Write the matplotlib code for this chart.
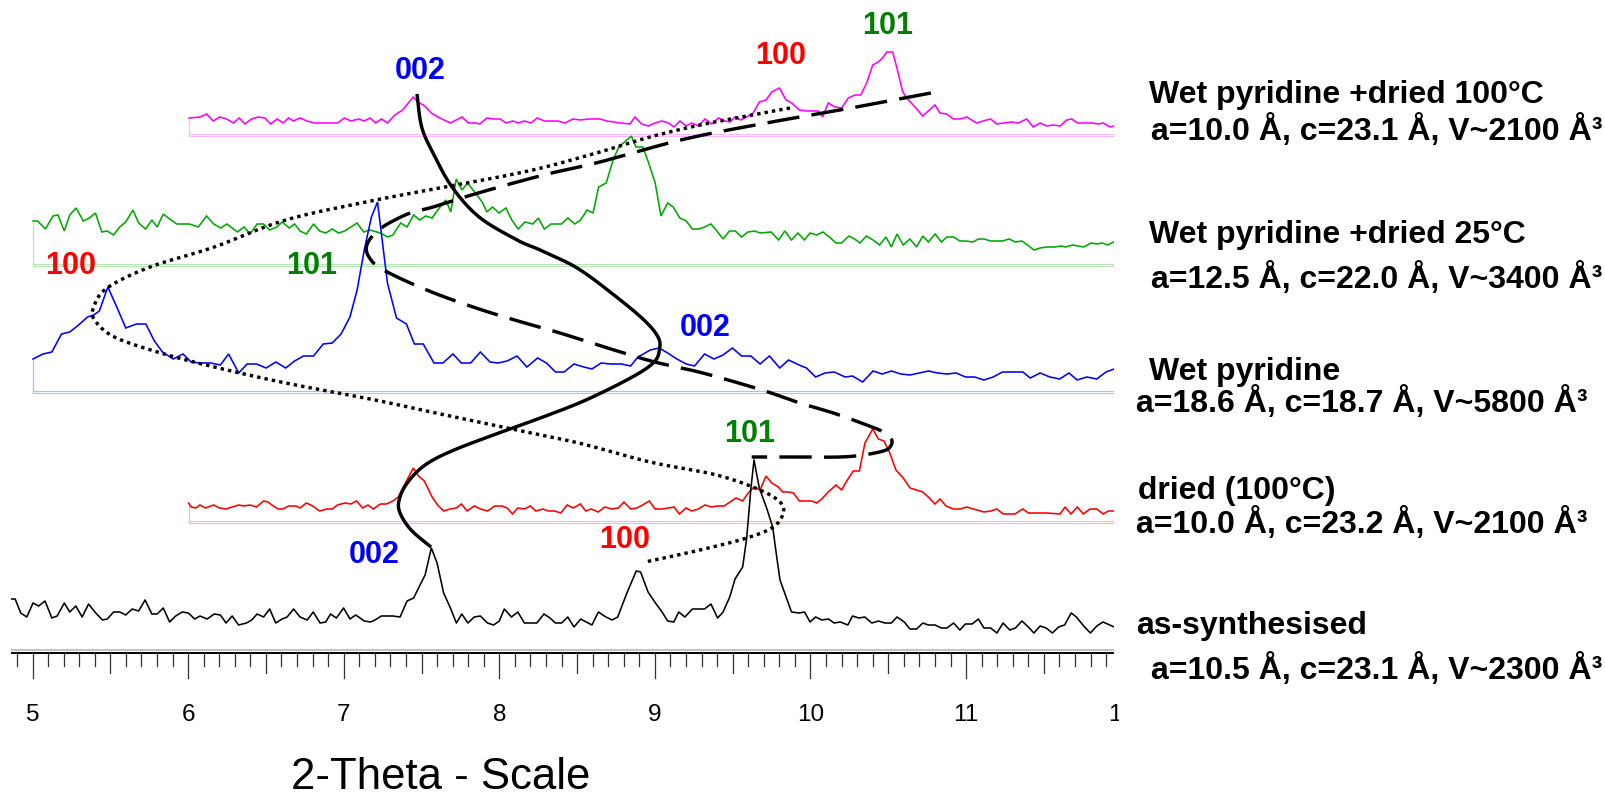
import numpy as np
import matplotlib
matplotlib.use("Agg")
import matplotlib.pyplot as plt
from matplotlib.transforms import Bbox

plt.rcParams['font.family'] = ['Liberation Sans', 'DejaVu Sans']

# ---------------- data: (2-theta, counts above the pattern's own baseline) ----------------
as_synthesised = [
    (4.864, 53), (4.888, 53), (4.924, 39), (4.963, 35), (5.003, 49), (5.039, 46), (5.080, 51), (5.124, 34), (5.158, 36), (5.204, 49),
    (5.239, 40), (5.278, 46), (5.319, 35), (5.360, 48), (5.406, 39), (5.450, 32), (5.480, 33), (5.521, 40), (5.560, 40), (5.599, 37),
    (5.640, 43), (5.682, 41), (5.723, 52), (5.767, 38), (5.801, 38), (5.840, 44), (5.881, 30), (5.920, 36), (5.962, 40), (6.001, 39),
    (6.042, 33), (6.076, 36), (6.122, 33), (6.168, 38), (6.207, 37), (6.244, 29), (6.283, 36), (6.324, 27), (6.375, 29), (6.409, 32),
    (6.443, 38), (6.485, 35), (6.524, 43), (6.563, 29), (6.604, 33), (6.636, 35), (6.678, 43), (6.719, 35), (6.765, 32), (6.804, 40),
    (6.848, 29), (6.884, 30), (6.915, 38), (6.953, 34), (6.999, 44), (7.040, 33), (7.077, 37), (7.132, 31), (7.172, 30), (7.201, 32),
    (7.242, 36), (7.316, 36), (7.362, 35), (7.407, 51), (7.449, 54), (7.488, 66), (7.523, 77), (7.563, 104), (7.600, 89), (7.642, 59),
    (7.683, 45), (7.724, 29), (7.759, 38), (7.798, 29), (7.839, 35), (7.878, 36), (7.924, 29), (7.963, 27), (8.000, 31), (8.032, 43),
    (8.078, 35), (8.119, 40), (8.161, 29), (8.241, 29), (8.287, 38), (8.326, 34), (8.361, 29), (8.400, 29), (8.440, 35), (8.480, 25),
    (8.523, 33), (8.595, 27), (8.637, 40), (8.685, 35), (8.725, 32), (8.761, 35), (8.820, 59), (8.880, 81), (8.908, 80), (8.956, 60),
    (8.999, 50), (9.046, 40), (9.082, 31), (9.122, 30), (9.153, 40), (9.193, 35), (9.241, 43), (9.319, 43), (9.360, 48), (9.403, 34),
    (9.438, 40), (9.481, 55), (9.515, 73), (9.564, 85), (9.590, 114), (9.616, 162), (9.637, 192), (9.671, 164), (9.718, 144), (9.757, 125),
    (9.783, 95), (9.804, 72), (9.878, 40), (9.926, 39), (9.962, 40), (9.997, 30), (10.033, 35), (10.073, 32), (10.116, 33), (10.152, 29),
    (10.192, 30), (10.240, 27), (10.270, 36), (10.311, 34), (10.349, 35), (10.394, 29), (10.437, 31), (10.477, 29), (10.520, 29), (10.556, 35),
    (10.603, 30), (10.639, 23), (10.682, 23), (10.722, 29), (10.758, 27), (10.801, 27), (10.841, 24), (10.877, 24), (10.920, 29), (10.960, 22),
    (10.996, 28), (11.039, 28), (11.079, 33), (11.115, 24), (11.158, 24), (11.198, 19), (11.238, 29), (11.281, 22), (11.317, 24), (11.359, 31),
    (11.400, 25), (11.436, 19), (11.476, 26), (11.514, 24), (11.555, 19), (11.595, 25), (11.633, 27), (11.676, 39), (11.709, 35), (11.756, 26),
    (11.799, 19), (11.840, 26), (11.880, 30), (11.923, 27), (11.952, 25)]

dried_100C = [
    (6.003, 19), (6.019, 15), (6.049, 14), (6.076, 17), (6.111, 14), (6.164, 17), (6.202, 14), (6.242, 13), (6.283, 15), (6.325, 17),
    (6.357, 16), (6.398, 17), (6.439, 15), (6.485, 21), (6.513, 20), (6.547, 16), (6.577, 13), (6.609, 13), (6.646, 16), (6.692, 16),
    (6.719, 14), (6.760, 19), (6.800, 16), (6.845, 11), (6.891, 13), (6.926, 13), (6.960, 17), (7.006, 19), (7.045, 18), (7.082, 21),
    (7.121, 14), (7.156, 17), (7.190, 13), (7.236, 18), (7.274, 18), (7.316, 21), (7.350, 25), (7.407, 42), (7.447, 54), (7.481, 46),
    (7.518, 41), (7.568, 25), (7.603, 17), (7.642, 11), (7.683, 13), (7.724, 14), (7.756, 18), (7.793, 11), (7.839, 16), (7.878, 13),
    (7.924, 11), (7.970, 16), (8.016, 16), (8.050, 14), (8.085, 8), (8.119, 14), (8.161, 13), (8.200, 16), (8.234, 11), (8.280, 13),
    (8.314, 11), (8.355, 11), (8.395, 9), (8.436, 17), (8.475, 14), (8.521, 18), (8.555, 11), (8.590, 13), (8.636, 10), (8.679, 15),
    (8.722, 13), (8.765, 14), (8.801, 20), (8.844, 13), (8.883, 14), (8.921, 17), (8.964, 21), (9.001, 13), (9.044, 13), (9.086, 14),
    (9.123, 15), (9.157, 8), (9.200, 14), (9.236, 11), (9.279, 13), (9.322, 17), (9.365, 15), (9.401, 16), (9.444, 16), (9.483, 20),
    (9.521, 24), (9.564, 21), (9.600, 29), (9.637, 35), (9.676, 32), (9.714, 46), (9.751, 39), (9.793, 35), (9.821, 30), (9.858, 30),
    (9.890, 29), (9.928, 21), (9.965, 21), (10.008, 21), (10.040, 19), (10.072, 23), (10.114, 30), (10.164, 37), (10.200, 32), (10.237, 42),
    (10.275, 51), (10.314, 51), (10.350, 79), (10.400, 93), (10.436, 83), (10.472, 81), (10.507, 70), (10.549, 52), (10.596, 44), (10.640, 34),
    (10.721, 30), (10.757, 25), (10.800, 18), (10.832, 23), (10.871, 16), (10.918, 13), (10.961, 13), (11.004, 15), (11.046, 13), (11.115, 10),
    (11.158, 11), (11.197, 13), (11.239, 8), (11.314, 8), (11.364, 13), (11.400, 9), (11.518, 9), (11.604, 8), (11.636, 15), (11.674, 8),
    (11.715, 15), (11.753, 8), (11.796, 13), (11.839, 13), (11.882, 8), (11.914, 11), (11.951, 11)]

wet_pyridine = [
    (5.003, 33), (5.067, 38), (5.124, 40), (5.186, 58), (5.239, 60), (5.296, 67), (5.353, 75), (5.393, 77), (5.429, 81), (5.484, 105),
    (5.544, 84), (5.599, 64), (5.668, 68), (5.728, 68), (5.783, 51), (5.835, 40), (5.904, 33), (5.967, 38), (6.019, 30), (6.076, 29),
    (6.145, 29), (6.207, 27), (6.260, 38), (6.325, 19), (6.379, 28), (6.439, 28), (6.501, 24), (6.563, 30), (6.627, 24), (6.684, 31),
    (6.742, 36), (6.806, 36), (6.868, 48), (6.926, 49), (6.983, 58), (7.040, 75), (7.086, 102), (7.132, 142), (7.178, 175), (7.217, 190),
    (7.247, 152), (7.281, 109), (7.339, 74), (7.403, 68), (7.454, 48), (7.511, 48), (7.580, 29), (7.637, 29), (7.702, 38), (7.756, 29),
    (7.816, 29), (7.878, 40), (7.940, 30), (7.993, 29), (8.050, 31), (8.114, 36), (8.177, 25), (8.246, 34), (8.303, 29), (8.361, 20),
    (8.416, 20), (8.480, 28), (8.543, 25), (8.595, 23), (8.654, 29), (8.713, 28), (8.785, 28), (8.844, 26), (8.891, 35), (8.970, 42),
    (9.027, 44), (9.082, 39), (9.141, 33), (9.201, 28), (9.255, 26), (9.319, 38), (9.379, 33), (9.438, 37), (9.498, 44), (9.557, 36),
    (9.617, 36), (9.676, 28), (9.736, 36), (9.802, 24), (9.859, 32), (9.926, 27), (9.974, 24), (10.033, 15), (10.093, 19), (10.152, 20),
    (10.223, 15), (10.270, 16), (10.335, 10), (10.402, 21), (10.461, 18), (10.520, 21), (10.580, 18), (10.639, 17), (10.699, 19), (10.758, 21),
    (10.818, 19), (10.877, 18), (10.936, 19), (10.996, 15), (11.055, 15), (11.115, 12), (11.174, 15), (11.234, 20), (11.293, 20), (11.365, 20),
    (11.412, 14), (11.476, 19), (11.538, 15), (11.602, 13), (11.661, 19), (11.714, 12), (11.776, 15), (11.840, 13), (11.899, 20), (11.952, 23)]

wet_dried_25C = [
    (5.003, 44), (5.032, 44), (5.083, 36), (5.131, 49), (5.163, 50), (5.204, 34), (5.239, 50), (5.280, 57), (5.326, 44), (5.365, 47),
    (5.404, 52), (5.445, 33), (5.480, 34), (5.521, 30), (5.560, 38), (5.599, 43), (5.645, 55), (5.682, 42), (5.726, 36), (5.767, 45),
    (5.801, 38), (5.840, 51), (5.881, 46), (5.927, 41), (6.008, 41), (6.065, 38), (6.118, 49), (6.164, 41), (6.210, 37), (6.249, 41),
    (6.317, 33), (6.359, 38), (6.398, 31), (6.443, 41), (6.485, 41), (6.524, 35), (6.570, 38), (6.604, 43), (6.650, 37), (6.684, 41),
    (6.719, 34), (6.760, 31), (6.806, 41), (6.845, 34), (6.884, 32), (6.926, 36), (6.967, 32), (7.006, 34), (7.086, 42), (7.128, 33),
    (7.167, 35), (7.236, 32), (7.281, 28), (7.316, 30), (7.366, 42), (7.407, 38), (7.449, 50), (7.488, 45), (7.527, 49), (7.568, 47),
    (7.614, 57), (7.656, 65), (7.688, 53), (7.723, 86), (7.760, 75), (7.796, 82), (7.846, 72), (7.890, 63), (7.920, 53), (7.956, 58),
    (7.998, 52), (8.042, 57), (8.080, 45), (8.121, 36), (8.165, 43), (8.215, 41), (8.251, 47), (8.289, 36), (8.333, 41), (8.399, 41),
    (8.441, 47), (8.485, 41), (8.522, 45), (8.564, 55), (8.603, 52), (8.638, 78), (8.687, 82), (8.731, 105), (8.768, 118), (8.849, 129),
    (8.878, 118), (8.923, 118), (8.960, 102), (9.002, 82), (9.039, 49), (9.082, 62), (9.118, 58), (9.160, 47), (9.201, 44), (9.241, 36),
    (9.284, 36), (9.319, 38), (9.360, 41), (9.398, 34), (9.438, 26), (9.479, 34), (9.517, 34), (9.557, 28), (9.598, 33), (9.641, 34),
    (9.676, 32), (9.747, 33), (9.795, 25), (9.835, 34), (9.878, 25), (9.919, 32), (9.961, 25), (9.997, 32), (10.040, 30), (10.080, 33),
    (10.121, 28), (10.164, 22), (10.199, 22), (10.247, 29), (10.283, 26), (10.318, 22), (10.359, 29), (10.402, 25), (10.444, 20), (10.485, 28),
    (10.520, 18), (10.556, 31), (10.596, 20), (10.639, 26), (10.682, 18), (10.722, 29), (10.758, 23), (10.801, 31), (10.841, 23), (10.877, 28),
    (10.920, 28), (10.960, 24), (10.996, 24), (11.044, 23), (11.079, 26), (11.115, 26), (11.158, 24), (11.234, 24), (11.276, 26), (11.317, 23),
    (11.359, 24), (11.395, 20), (11.436, 15), (11.476, 17), (11.519, 18), (11.566, 18), (11.614, 19), (11.638, 18), (11.685, 20), (11.721, 19),
    (11.756, 18), (11.804, 22), (11.840, 21), (11.875, 22), (11.911, 20), (11.947, 23)]

wet_dried_100C = [
    (6.006, 17), (6.075, 18), (6.119, 21), (6.161, 14), (6.203, 18), (6.247, 16), (6.291, 12), (6.328, 17), (6.365, 11), (6.407, 16),
    (6.449, 18), (6.493, 17), (6.530, 11), (6.572, 16), (6.611, 12), (6.645, 17), (6.677, 14), (6.719, 17), (6.763, 14), (6.813, 12),
    (6.960, 12), (7.004, 17), (7.046, 14), (7.096, 16), (7.132, 14), (7.169, 17), (7.206, 12), (7.243, 16), (7.280, 12), (7.329, 20),
    (7.378, 25), (7.415, 32), (7.447, 38), (7.477, 33), (7.521, 29), (7.563, 22), (7.605, 18), (7.644, 15), (7.686, 12), (7.723, 15),
    (7.760, 18), (7.801, 12), (7.846, 12), (7.875, 11), (7.920, 17), (7.964, 16), (8.006, 16), (8.042, 12), (8.087, 14), (8.121, 12),
    (8.161, 14), (8.203, 12), (8.244, 17), (8.289, 14), (8.337, 14), (8.375, 14), (8.423, 12), (8.473, 16), (8.522, 15), (8.571, 16),
    (8.613, 16), (8.647, 16), (8.690, 14), (8.733, 13), (8.776, 12), (8.840, 11), (8.872, 18), (8.915, 11), (8.958, 9), (9.001, 12),
    (9.044, 14), (9.086, 12), (9.123, 8), (9.161, 14), (9.200, 9), (9.236, 12), (9.279, 9), (9.322, 16), (9.365, 11), (9.408, 17),
    (9.451, 14), (9.483, 13), (9.515, 18), (9.551, 15), (9.590, 18), (9.632, 22), (9.671, 33), (9.714, 35), (9.751, 43), (9.800, 47),
    (9.843, 35), (9.879, 32), (9.928, 25), (9.976, 24), (10.050, 24), (10.078, 18), (10.114, 32), (10.157, 28), (10.200, 27), (10.243, 37),
    (10.286, 40), (10.323, 40), (10.361, 52), (10.400, 70), (10.436, 73), (10.468, 78), (10.490, 83), (10.528, 83), (10.554, 68), (10.593, 43),
    (10.629, 35), (10.672, 28), (10.721, 19), (10.757, 24), (10.800, 30), (10.832, 22), (10.875, 21), (10.918, 16), (10.961, 16), (11.004, 18),
    (11.068, 12), (11.132, 15), (11.158, 16), (11.197, 11), (11.239, 12), (11.293, 13), (11.336, 12), (11.389, 16), (11.432, 8), (11.475, 12),
    (11.518, 9), (11.560, 10), (11.604, 9), (11.646, 15), (11.679, 16), (11.715, 12), (11.764, 12), (11.807, 12), (11.849, 11), (11.882, 12),
    (11.925, 8), (11.951, 9)]

# hand-drawn guide curves (2-theta, row) linking the reflections
guide_002 = [(7.471, 94), (7.501, 127), (7.574, 153), (7.696, 187), (7.870, 217), (8.114, 240), (8.262, 250),
             (8.500, 268), (8.737, 295), (8.930, 320), (9.020, 337), (9.030, 349), (8.995, 362), (8.855, 377),
             (8.557, 400), (8.281, 417), (8.049, 430), (7.709, 450), (7.523, 465), (7.408, 483), (7.356, 500),
             (7.362, 513), (7.433, 530), (7.561, 547)]
guide_101 = [(10.774, 93), (10.297, 107), (9.751, 122), (9.193, 139), (8.647, 162), (8.337, 173), (8.092, 183),
             (7.821, 195), (7.575, 207), (7.427, 213), (7.292, 223), (7.226, 230), (7.169, 239), (7.145, 248),
             (7.162, 257), (7.224, 267), (7.385, 280), (7.614, 295), (7.889, 310), (8.142, 322), (8.390, 333),
             (8.737, 350), (8.999, 362), (9.308, 373), (9.688, 390), (9.911, 402), (10.147, 413), (10.361, 425),
             (10.468, 432), (10.522, 440), (10.511, 447), (10.468, 451), (10.339, 455), (10.190, 457), (9.933, 457),
             (9.622, 457)]
guide_100 = [(9.868, 108), (9.590, 116), (9.290, 125), (8.969, 137), (8.647, 152), (8.215, 170), (7.723, 185),
             (7.206, 200), (6.627, 220), (6.168, 247), (5.755, 267), (5.479, 288), (5.393, 307), (5.399, 320),
             (5.526, 337), (5.824, 353), (6.168, 367), (6.627, 383), (7.201, 400), (7.591, 413), (8.050, 428),
             (8.510, 443), (8.969, 462), (9.397, 475), (9.675, 490), (9.804, 502), (9.825, 513), (9.761, 527),
             (9.590, 538), (9.290, 550), (8.936, 562)]

# reflection labels
hkl_text = ["002", "100", "101", "100", "101", "002", "101", "100", "002"]
hkl_theta = [7.490, 9.810, 10.498, 5.247, 6.796, 9.322, 9.611, 8.808, 7.195]
hkl_row = [79, 64, 34, 274, 274, 336, 442, 548, 563]
hkl_color = ["#0000ff", "#ff0000", "#008000", "#ff0000", "#008000", "#0000ff", "#008000", "#ff0000", "#0000ff"]

sample_names = ["Wet pyridine +dried 100°C", "Wet pyridine +dried 25°C", "Wet pyridine",
                "dried (100°C)", "as-synthesised"]
cell_params = ["a=10.0 Å, c=23.1 Å, V~2100 Å³", "a=12.5 Å, c=22.0 Å, V~3400 Å³",
               "a=18.6 Å, c=18.7 Å, V~5800 Å³", "a=10.0 Å, c=23.2 Å, V~2100 Å³",
               "a=10.5 Å, c=23.1 Å, V~2300 Å³"]

tick_labels = ["5", "6", "7", "8", "9", "10", "11", "12"]
x_title = "2-Theta - Scale"

# ---------------- figure ----------------
W, H = 1606, 800
fig = plt.figure(figsize=(W / 100, H / 100), dpi=100)
TH_MIN, TH_MAX = 4.864, 11.952
X_LEFT, X_RIGHT = 11.4, 1114.2
ax = fig.add_axes([X_LEFT / W, 0, (X_RIGHT - X_LEFT) / W, 1])
ax.set_xlim(TH_MIN, TH_MAX)
ax.set_ylim(H, 0)
ax.axis('off')

patterns = [
    (wet_dried_100C, 135, "#ff00ff", "#ffb8ff"),
    (wet_dried_25C, 265, "#00a800", "#b8e4b8"),
    (wet_pyridine, 392, "#0000ff", "#b8b8ff"),
    (dried_100C, 522, "#ff0000", "#ffb8b8"),
]
for scan, base, col, light in patterns:
    th, cnt = map(np.array, zip(*scan))
    y = base - cnt
    ax.plot([th[0], th[0]], [y[0], base + 1], color=light, lw=0.9, solid_capstyle='butt')
    ax.plot([th[0], TH_MAX], [base - 1, base - 1], color=light, lw=0.8)
    ax.plot([th[0], TH_MAX], [base + 1.2, base + 1.2], color=light, lw=0.8)
    ax.plot(th, y, color=col, lw=1.15, solid_joinstyle='miter')

# as-synthesised pattern sits on the scale itself
AXIS_ROW = 653
th, cnt = map(np.array, zip(*as_synthesised))
ax.plot(th, AXIS_ROW - 1 - cnt, color="black", lw=1.15)

# scale line and ticks
ax.plot([TH_MIN, TH_MAX], [AXIS_ROW - 2.6, AXIS_ROW - 2.6], color="#b0b0b0", lw=1.1)
ax.plot([TH_MIN, TH_MAX], [AXIS_ROW, AXIS_ROW], color="black", lw=1.4)
ticks = np.arange(49, 120) / 10.0
for t in ticks:
    tenth = int(round(t * 10)) % 10
    length = 25 if tenth == 0 else (20 if tenth == 5 else 12.5)
    ax.plot([t, t], [AXIS_ROW, AXIS_ROW + length], color="#333333", lw=0.9)
clip = Bbox.from_extents(0, 0, 1119, H)
for lab in tick_labels:
    t = ax.text(float(lab), 721, lab, ha='center', va='baseline', fontsize=17.5, color='black')
    t.set_clip_path(None)
    t.set_clip_box(clip)
    t.set_clip_on(True)
ax.text(7.62, 789, x_title, ha='center', va='baseline', fontsize=31.5, color='black')


def catmull(points, n=24):
    P = np.asarray(points, float)
    P = np.vstack([P[0], P, P[-1]])
    segs = []
    for i in range(1, len(P) - 2):
        p0, p1, p2, p3 = P[i - 1], P[i], P[i + 1], P[i + 2]
        s = np.linspace(0, 1, n, endpoint=False)[:, None]
        segs.append(0.5 * (2 * p1 + (-p0 + p2) * s + (2 * p0 - 5 * p1 + 4 * p2 - p3) * s ** 2
                           + (-p0 + 3 * p1 - 3 * p2 + p3) * s ** 3))
    segs.append(P[-2][None, :])
    return np.vstack(segs)


c = catmull(guide_002)
ax.plot(c[:, 0], c[:, 1], color='black', lw=2.45, solid_capstyle='butt')
c = catmull(guide_101)
ax.plot(c[:, 0], c[:, 1], color='black', lw=2.45, linestyle=(0, (9.5, 3.6)), dash_capstyle='butt')
c = catmull(guide_100)
ax.plot(c[:, 0], c[:, 1], color='black', lw=2.45, linestyle=(0, (1, 1.2)), dash_capstyle='butt')

for txt, th_, row, col in zip(hkl_text, hkl_theta, hkl_row, hkl_color):
    ax.text(th_, row, txt, ha='center', va='baseline', fontsize=22, fontweight='bold', color=col)

# right-hand descriptions (pixel positions)
name_xy = [(1149, 103), (1149, 243), (1149, 380), (1138, 499), (1136, 634)]
cell_xy = [(1151, 140), (1151, 288), (1136, 412), (1136, 533), (1151, 679)]
for txt, (px, py) in zip(sample_names, name_xy):
    fig.text(px / W, 1 - py / H, txt, ha='left', va='baseline', fontsize=23, fontweight='bold')
for txt, (px, py) in zip(cell_params, cell_xy):
    fig.text(px / W, 1 - py / H, txt, ha='left', va='baseline', fontsize=23, fontweight='bold')

fig.savefig("out.png", dpi=100)
